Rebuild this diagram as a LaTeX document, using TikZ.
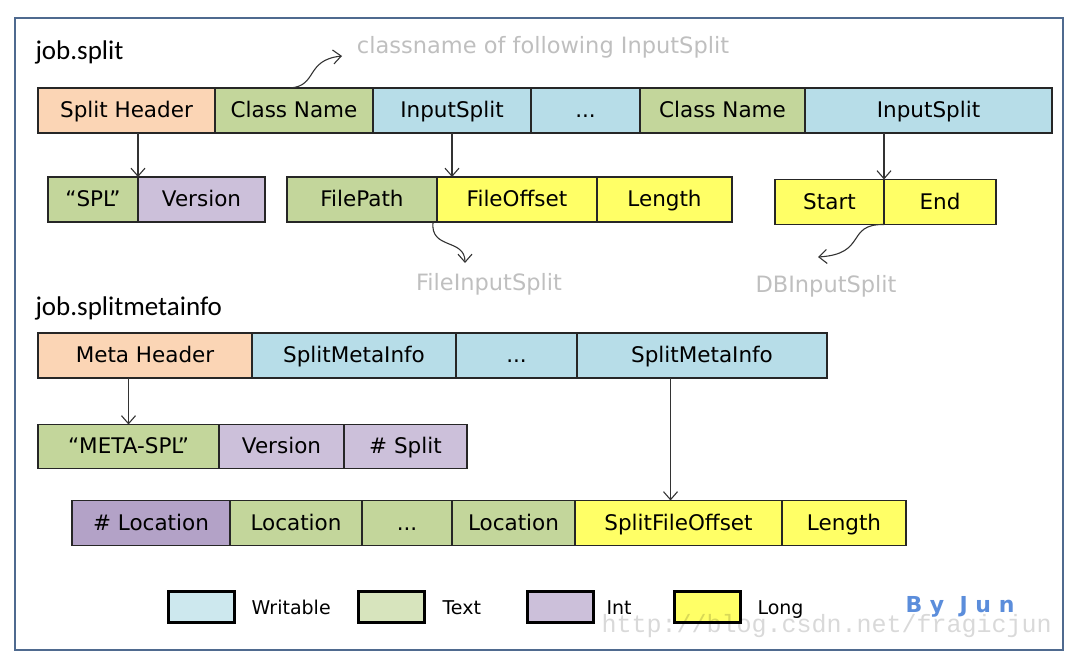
\documentclass[tikz,border=0pt]{standalone}
\usepackage{fontspec}
\setmainfont{DejaVu Sans}
\newfontfamily\labelfont{Carlito}
\newfontfamily\markfont{Liberation Mono}
\usetikzlibrary{arrows.meta,positioning}

\definecolor{hdrpeach}{HTML}{FBD5B5}
\definecolor{txtgreen}{HTML}{C3D69B}
\definecolor{wrtblue}{HTML}{B7DDE8}
\definecolor{intpurple}{HTML}{CCC0DA}
\definecolor{lngyellow}{HTML}{FFFF66}
\definecolor{locpurple}{HTML}{B3A2C7}
\definecolor{keyblue}{HTML}{CDE8EE}
\definecolor{keygreen}{HTML}{D7E4BD}
\definecolor{framecol}{HTML}{4F6A8F}
\definecolor{notegray}{HTML}{BFBFBF}
\definecolor{signblue}{HTML}{5B8DDB}

\tikzset{
  cell/.style={draw=black!85, line width=1.4pt, fill=#1, anchor=west, inner sep=0pt,
    outer sep=0pt, minimum height=45pt, text height=17pt, text depth=3pt,
    font=\fontsize{21.5}{25}\selectfont},
  ptr/.style={draw=black!80, line width=1.1pt, -{Straight Barb[length=8pt,width=14pt]}},
  note/.style={text=notegray, font=\fontsize{22.5}{26}\selectfont},
  key/.style={draw=black, line width=3pt, fill=#1, minimum width=66pt, minimum height=31pt, inner sep=0pt},
  keytext/.style={anchor=west, text height=15pt, text depth=4pt, font=\fontsize{19}{22}\selectfont}
}

\begin{document}
\begin{tikzpicture}[x=1pt,y=-1pt]
    \useasboundingbox (0,0) rectangle (1071,656);
    % Outer frame
    \draw[framecol, line width=2.5pt] (15,18) rectangle (1063,650);

    % job.split
    \node[anchor=west, font=\labelfont\fontsize{27}{32}\selectfont] (jsplit) at (32,52) {job.split};
    \node[cell=hdrpeach, minimum width=177pt] (shdr) at (38,110.5) {Split Header};
    \node[cell=txtgreen, minimum width=158pt] (cname1) at (215,110.5) {Class Name};
    \node[cell=wrtblue, minimum width=158pt] (isplit1) at (373,110.5) {InputSplit};
    \node[cell=wrtblue, minimum width=109pt] (dots1) at (531,110.5) {...};
    \node[cell=txtgreen, minimum width=165pt] (cname2) at (640,110.5) {Class Name};
    \node[cell=wrtblue, minimum width=247pt] (isplit2) at (805,110.5) {InputSplit};

    % Split header fields
    \node[cell=txtgreen, minimum width=90pt] (spl) at (48,199.5) {“SPL”};
    \node[cell=intpurple, minimum width=127pt] (ver1) at (138,199.5) {Version};

    % FileInputSplit fields
    \node[cell=txtgreen, minimum width=150pt] (fpath) at (287,199.5) {FilePath};
    \node[cell=lngyellow, minimum width=160pt] (foff) at (437,199.5) {FileOffset};
    \node[cell=lngyellow, minimum width=135pt] (flen) at (597,199.5) {Length};

    % DBInputSplit fields
    \node[cell=lngyellow, minimum width=109pt] (start) at (775,202) {Start};
    \node[cell=lngyellow, minimum width=112pt] (end) at (884,202) {End};

    % Notes
    \node[note] (cnote) at (543,47) {classname of following InputSplit};
    \node[note] (fisnote) at (489,284) {FileInputSplit};
    \node[note] (dbnote) at (826,286) {DBInputSplit};
    \coordinate (ctip) at (342,56);
    \coordinate (fistip) at (465,263);
    \coordinate (dbtip) at (818,257);

    \draw[ptr] (spl.north east |- shdr.south) -- (spl.north east);
    \draw[ptr] (isplit1.south) -- (isplit1.south |- foff.north);
    \draw[ptr] (start.north east |- isplit2.south) -- (start.north east);
    \draw[ptr] ([xshift=-4pt]cname1.north) .. controls (318,86) and (305,60) .. (ctip);
    \draw[ptr] ([xshift=-4pt]fpath.south east) .. controls (430,250) and (465,238) .. (fistip);
    \draw[ptr] (start.south east) .. controls (845,224) and (868,254) .. (dbtip);

    % job.splitmetainfo
    \node[anchor=west, font=\labelfont\fontsize{27}{32}\selectfont] (jmeta) at (32,308) {job.splitmetainfo};
    \node[cell=hdrpeach, minimum width=214pt] (mhdr) at (38,355.5) {Meta Header};
    \node[cell=wrtblue, minimum width=204pt] (smi1) at (252,355.5) {SplitMetaInfo};
    \node[cell=wrtblue, minimum width=121pt] (dots2) at (456,355.5) {...};
    \node[cell=wrtblue, minimum width=250pt] (smi2) at (577,355.5) {SplitMetaInfo};

    % Meta header fields
    \node[cell=txtgreen, minimum width=181pt, minimum height=44pt] (metaspl) at (38,446.5) {“META-SPL”};
    \node[cell=intpurple, minimum width=125pt, minimum height=44pt] (ver2) at (219,446.5) {Version};
    \node[cell=intpurple, minimum width=123pt, minimum height=44pt] (nsplit) at (344,446.5) {\# Split};

    % SplitMetaInfo fields
    \node[cell=locpurple, minimum width=158pt] (nloc) at (72,523) {\# Location};
    \node[cell=txtgreen, minimum width=132pt] (loc1) at (230,523) {Location};
    \node[cell=txtgreen, minimum width=90pt] (dots3) at (362,523) {...};
    \node[cell=txtgreen, minimum width=123pt] (loc2) at (452,523) {Location};
    \node[cell=lngyellow, minimum width=207pt] (sfoff) at (575,523) {SplitFileOffset};
    \node[cell=lngyellow, minimum width=124pt] (slen) at (782,523) {Length};

    \draw[ptr] (metaspl.north |- mhdr.south) -- (metaspl.north);
    \draw[ptr] ([xshift=-8pt]sfoff.north |- smi2.south) -- ([xshift=-8pt]sfoff.north);

    % Legend
    \node[key=keyblue] (kwrt) at (201,606.5) {};
    \node[keytext] (twrt) at (248,609) {Writable};
    \node[key=keygreen] (ktxt) at (391.5,606.5) {};
    \node[keytext] (ttxt) at (439,609) {Text};
    \node[key=intpurple] (kint) at (560,606.5) {};
    \node[keytext] (tint) at (603,609) {Int};
    \node[key=lngyellow] (klng) at (707.5,606.5) {};
    \node[keytext] (tlng) at (754,609) {Long};

    % Signature and watermark
    \node[text=signblue, font=\bfseries\fontsize{22}{26}\selectfont] (sign) at (960,607) {B y \ J u n};
    \node[anchor=west, text=black, opacity=0.15, font=\markfont\fontsize{25}{30}\selectfont] (wmark) at (598,626) {http://blog.csdn.net/fragicjun};
\end{tikzpicture}
\end{document}
